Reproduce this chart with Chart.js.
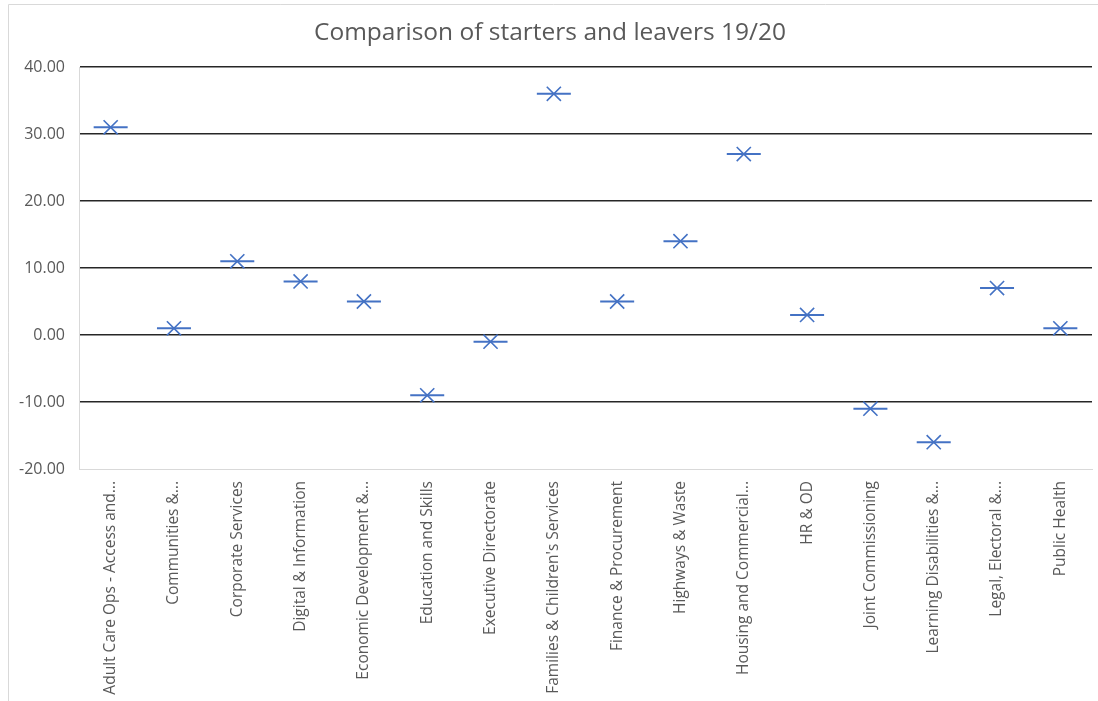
<!DOCTYPE html>
<html>
<head>
<meta charset="utf-8">
<script src="https://cdn.jsdelivr.net/npm/chart.js@4"></script>
<style>
  html, body { margin: 0; padding: 0; background: #ffffff; }
  #wrap { position: relative; width: 1098px; height: 701px; }
  canvas { display: block; }
</style>
</head>
<body>
<div id="wrap"><canvas id="chart" width="1098" height="701"></canvas></div>
<script>
// Departments (labels shortened as shown on the axis)
const departments = [
  "Adult Care Ops - Access and...",
  "Communities &...",
  "Corporate Services",
  "Digital & Information",
  "Economic Development &...",
  "Education and Skills",
  "Executive Directorate",
  "Families & Children's Services",
  "Finance & Procurement",
  "Highways & Waste",
  "Housing and Commercial...",
  "HR & OD",
  "Joint Commissioning",
  "Learning Disabilities &...",
  "Legal, Electoral &...",
  "Public Health"
];

// Net change (starters minus leavers) per department
const netChange = [31, 1, 11, 8, 5, -9, -1, 36, 5, 14, 27, 3, -11, -16, 7, 1];

// Value axis range and step
const yMin = -20;
const yMax = 40;
const yStep = 10;

const chartTitle = "Comparison of starters and leavers 19/20";

const markerBlue = "#4472C4";
const textGrey = "#595959";
const frameGrey = "#d9d9d9";

// Thin frame around the whole chart
const framePlugin = {
  id: "frame",
  beforeDraw(chart) {
    const c = chart.ctx;
    c.save();
    c.strokeStyle = frameGrey;
    c.lineWidth = 1;
    c.beginPath();
    c.moveTo(8.5, chart.height);
    c.lineTo(8.5, 4.5);
    c.lineTo(chart.width, 4.5);
    c.stroke();
    c.restore();
  }
};

new Chart(document.getElementById("chart"), {
  type: "line",
  data: {
    labels: departments,
    datasets: [
      {
        data: netChange,
        showLine: false,
        pointStyle: "line",
        pointRadius: 17,
        pointHoverRadius: 17,
        borderColor: markerBlue,
        backgroundColor: markerBlue,
        pointBorderWidth: 2
      },
      {
        data: netChange,
        showLine: false,
        pointStyle: "crossRot",
        pointRadius: 10,
        pointHoverRadius: 10,
        borderColor: markerBlue,
        backgroundColor: markerBlue,
        pointBorderWidth: 1.6
      }
    ]
  },
  options: {
    responsive: false,
    animation: false,
    events: [],
    layout: { autoPadding: false, padding: { left: 8, right: 6, top: 0, bottom: 0 } },
    plugins: {
      legend: { display: false },
      tooltip: { enabled: false },
      title: {
        display: true,
        text: chartTitle,
        color: textGrey,
        font: { family: "'Open Sans', sans-serif", size: 24.5, weight: "normal" },
        padding: { top: 18.3, bottom: 19.3 }
      }
    },
    scales: {
      x: {
        offset: true,
        grid: { display: false, drawTicks: false },
        border: { display: true, color: frameGrey, width: 1 },
        ticks: {
          color: textGrey,
          font: { family: "'Open Sans', sans-serif", size: 15.5 },
          minRotation: 90,
          maxRotation: 90,
          autoSkip: false,
          padding: 12
        },
        afterFit(scale) {
          scale.height = 701 - 469;
          scale.paddingLeft = 0;
          scale.paddingRight = 0;
        }
      },
      y: {
        min: yMin,
        max: yMax,
        grid: {
          drawTicks: false,
          lineWidth: 1.4,
          color: (ctx) => (ctx.tick && ctx.tick.value === yMin ? "rgba(0,0,0,0)" : "#262626")
        },
        border: { display: true, color: frameGrey, width: 1 },
        ticks: {
          stepSize: yStep,
          color: textGrey,
          font: { family: "'Open Sans', sans-serif", size: 16 },
          padding: 14,
          callback: (v) => Number(v).toFixed(2)
        },
        afterFit(scale) { scale.width = 79 - 8; }
      }
    }
  },
  plugins: [framePlugin]
});
</script>
</body>
</html>
